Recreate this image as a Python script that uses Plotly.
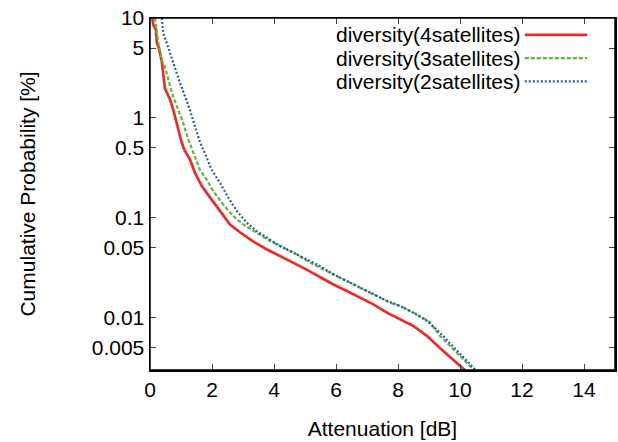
import plotly.graph_objects as go

# ---- data ----
x_4sat = [0.07, 0.11, 0.19, 0.22, 0.27, 0.38, 0.48, 0.65, 0.75, 0.91, 1.0, 1.1, 1.29, 1.45, 1.67, 1.94, 2.26, 2.58, 2.9,
          3.32, 3.76, 4.19, 4.61, 5.05, 5.48, 5.9, 6.35, 6.77, 7.19, 7.64, 8.06, 8.48, 8.93, 9.35, 10.15]
y_4sat = [10, 8.5, 7.6, 5.6, 5.2, 3.66, 1.98, 1.51, 1.2, 0.76, 0.6, 0.48, 0.38, 0.28, 0.206, 0.158, 0.116, 0.085, 0.071,
          0.0575, 0.048, 0.041, 0.0357, 0.030, 0.0253, 0.0214, 0.0183, 0.0157, 0.0135, 0.0111, 0.0096, 0.0082, 0.0065, 0.0049, 0.00295]

x_3sat = [0.16, 0.22, 0.27, 0.38, 0.48, 0.65, 0.75, 0.91, 1.07, 1.24, 1.40, 1.61, 1.83, 2.04, 2.36, 2.69, 3.01, 3.44,
          3.87, 4.30, 4.73, 5.16, 5.59, 6.02, 6.45, 6.88, 7.31, 7.74, 8.17, 8.6, 9.03, 9.35, 10.45]
y_3sat = [10, 7.3, 5.6, 3.8, 3.26, 2.06, 1.63, 1.2, 0.885, 0.60, 0.44, 0.30, 0.24, 0.183, 0.135, 0.103, 0.085, 0.070,
          0.058, 0.050, 0.0427, 0.0352, 0.030, 0.0259, 0.0222, 0.019, 0.0163, 0.014, 0.0125, 0.0107, 0.0089, 0.0065, 0.00295]

x_2sat = [0.38, 0.43, 0.54, 0.65, 0.81, 0.97, 1.13, 1.29, 1.45, 1.62, 1.77, 1.99, 2.26, 2.53, 2.80, 3.12, 3.44, 3.76,
          4.19, 4.62, 5.05, 5.48, 5.91, 6.35, 6.77, 7.2, 7.64, 8.06, 8.49, 8.93, 9.35, 10.5]
y_2sat = [10, 7.0, 5.6, 4.4, 3.26, 2.22, 1.63, 1.2, 0.82, 0.56, 0.44, 0.30, 0.222, 0.157, 0.116, 0.0885, 0.073, 0.0627,
          0.0517, 0.0443, 0.038, 0.0326, 0.0269, 0.0231, 0.0198, 0.017, 0.0146, 0.013, 0.0111, 0.0092, 0.0070, 0.00295]

names = ["diversity(4satellites)", "diversity(3satellites)", "diversity(2satellites)"]
colors = ["#ee2b2b", "#5fba3a", "#2a5cae"]
dashes = ["solid", "4px,2px", "2px,2px"]
widths = [2.7, 2.2, 2.2]

y_tickvals = [0.005, 0.01, 0.05, 0.1, 0.5, 1, 5, 10]
y_ticktext = ["0.005", "0.01", "0.05", "0.1", "0.5", "1", "5", "10"]
x_tickvals = [0, 2, 4, 6, 8, 10, 12, 14]

FONT = "Liberation Sans, Arial, sans-serif"
FS = 21

fig = go.Figure()
series = [(x_4sat, y_4sat), (x_3sat, y_3sat), (x_2sat, y_2sat)]
for (xs, ys), nm, c, d, w in zip(series, names, colors, dashes, widths):
    fig.add_trace(go.Scatter(x=xs, y=ys, mode="lines", name=nm,
                             line=dict(color=c, dash=d, width=w), showlegend=False))

# gnuplot-style legend: text right-aligned, key line to the right
leg_y = [0.952, 0.886, 0.820]
for nm, c, d, w, yy in zip(names, colors, dashes, widths, leg_y):
    fig.add_annotation(x=0.80, y=yy, xref="paper", yref="paper", text=nm, showarrow=False,
                       xanchor="right", yanchor="middle", font=dict(size=FS, color="black", family=FONT))
    fig.add_shape(type="line", xref="paper", yref="paper", x0=0.806, x1=0.94, y0=yy, y1=yy,
                  line=dict(color=c, dash=d, width=w))

# plot frame
fig.add_shape(type="rect", xref="paper", yref="paper", x0=0, x1=1, y0=0, y1=1,
              line=dict(color="black", width=1.5), layer="above")

fig.update_layout(
    width=618, height=442,
    margin=dict(l=150, r=3, t=18, b=72),
    paper_bgcolor="white", plot_bgcolor="white",
    font=dict(family=FONT, size=FS, color="black"),
    xaxis=dict(range=[0, 15], tickvals=x_tickvals, ticks="inside", ticklen=6, tickwidth=1,
               showline=True, linecolor="black", linewidth=1.5, mirror="ticks", showgrid=False, zeroline=False,
               automargin=False, ticklabeloverflow="allow",
               title=dict(text="Attenuation [dB]", font=dict(size=FS), standoff=21),
               tickfont=dict(size=FS)),
    yaxis=dict(type="log", range=[-2.53, 1.0], tickvals=y_tickvals, ticktext=y_ticktext,
               ticks="inside", ticklen=6, tickwidth=1, automargin=False, ticklabeloverflow="allow",
               showline=True, linecolor="black", linewidth=1.5, mirror="ticks", showgrid=False, zeroline=False,
               title=dict(text="Cumulative Probability [%]", font=dict(size=FS), standoff=50),
               tickfont=dict(size=FS)),
)

fig.write_html("out.html", config={"displayModeBar": False, "staticPlot": True},
               post_script="document.body.style.margin='0';document.body.style.overflow='hidden';")
